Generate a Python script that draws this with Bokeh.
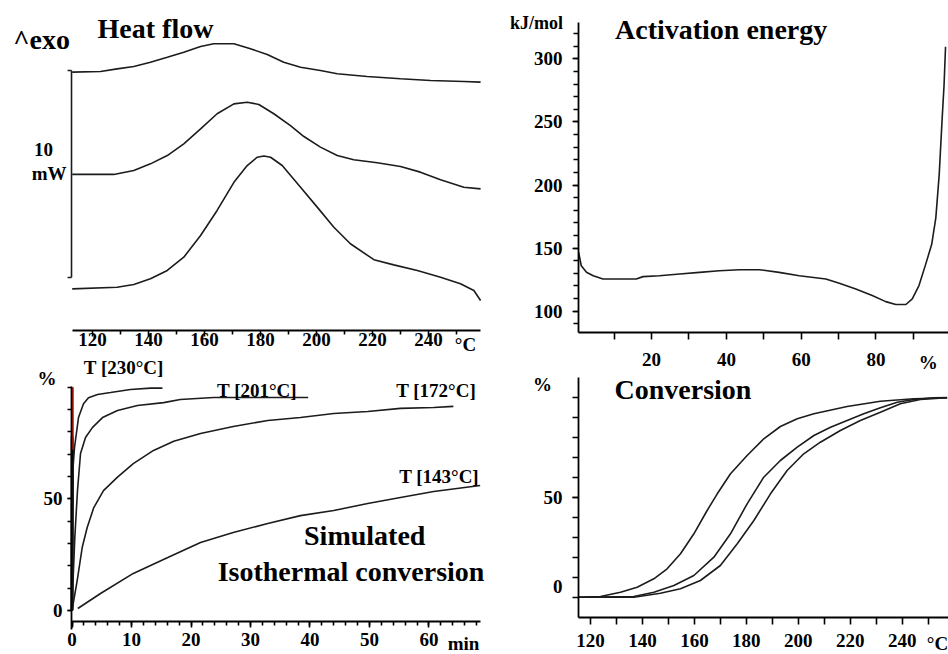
from bokeh.plotting import figure
from bokeh.layouts import row, column
from bokeh.models import FixedTicker, Label
from bokeh.embed import file_html
from bokeh.resources import INLINE

SERIF = "Liberation Serif"
INK = "#1c1c1c"

# ---------------- Heat flow (DSC), three heating rates, stacked (mW) ----------------
hf_temp_top = [112.75, 122.86, 128.8, 134.75, 140.7, 146.7, 152.6, 158.6, 163.3, 170.5,
               176.4, 182.4, 188.3, 194.3, 201.4, 207.4, 218.1, 230.0, 240.7, 252.6, 258.6]
hf_top = [12.48, 12.51, 12.64, 12.75, 12.96, 13.2, 13.44, 13.72, 13.85, 13.85,
          13.61, 13.33, 12.96, 12.72, 12.56, 12.4, 12.27, 12.16, 12.08, 12.03, 12.0]

hf_temp_mid = [112.75, 127.6, 134.75, 140.7, 146.7, 152.6, 158.6, 164.5, 170.5, 175.25,
               179.4, 184.75, 190.7, 195.5, 201.4, 207.4, 213.3, 221.7, 230.0, 237.1,
               244.3, 252.6, 258.6]
hf_mid = [7.54, 7.54, 7.73, 8.05, 8.45, 9.02, 9.74, 10.47, 10.95, 11.03,
          10.92, 10.47, 9.9, 9.37, 8.86, 8.45, 8.25, 8.1, 7.92, 7.65,
          7.28, 6.92, 6.84]

hf_temp_bot = [112.75, 128.8, 134.75, 140.7, 146.7, 152.6, 158.6, 164.5, 170.5, 175.25,
               178.8, 181.2, 183.6, 187.75, 194.3, 200.25, 206.2, 212.1, 220.5, 227.6,
               236.0, 244.3, 251.4, 256.2, 258.6]
hf_bot = [2.01, 2.09, 2.22, 2.5, 2.9, 3.54, 4.59, 5.8, 7.16, 7.97,
          8.37, 8.43, 8.37, 7.97, 6.92, 5.96, 4.99, 4.19, 3.42, 3.17,
          2.9, 2.57, 2.26, 1.93, 1.45]

scale_bar_base = 2.56   # mW
scale_bar_size = 10     # mW
scale_bar_temp = 112.5  # degC

# ---------------- Activation energy vs conversion ----------------
ea_alpha = [0.5, 1.2, 2.6, 4.4, 7.0, 11.5, 15.9, 17.7, 22.1, 27.5, 32.8, 38.1, 43.5, 48.8,
            54.1, 59.5, 66.6, 70.2, 74.6, 79.0, 82.6, 85.3, 88.0, 89.7, 91.5, 93.3, 94.9,
            96.0, 96.9, 97.7, 98.2, 98.6]
ea_kj = [146.6, 136.0, 130.8, 128.1, 125.5, 125.5, 125.5, 127.4, 128.1, 129.5, 130.8, 132.1,
         132.9, 132.9, 130.8, 128.1, 125.5, 122.1, 117.6, 112.4, 107.6, 105.3, 105.3, 109.7,
         120.3, 137.3, 153.0, 174.0, 208.0, 253.0, 279.0, 309.6]

# ---------------- Simulated isothermal conversion (min, %) ----------------
iso_fast_t = [0.0, 0.05]
iso_fast_c = [0.0, 78.0]
iso_red_t = [0.12, 0.12]
iso_red_c = [72.0, 100.0]

iso230_t = [0.0, 0.1, 0.2, 0.42, 1.09, 1.93, 2.77, 4.29, 6.47, 9.83, 13.2, 15.2]
iso230_c = [0.0, 40.0, 65.0, 73.0, 86.4, 92.6, 95.3, 96.7, 97.6, 99.0, 99.6, 99.6]

iso201_t = [0.0, 0.2, 0.47, 0.92, 1.43, 2.27, 3.45, 5.13, 7.65, 11.0, 15.4, 18.2, 23.8, 39.7]
iso201_c = [0.0, 15.0, 32.7, 53.7, 70.3, 77.5, 82.0, 86.4, 89.6, 91.8, 93.1, 94.5, 95.4, 95.4]

iso172_t = [0.0, 0.87, 1.71, 2.55, 3.66, 5.29, 7.6, 10.3, 13.7, 17.1, 21.6, 27.1, 32.9,
            38.4, 44.0, 49.7, 55.2, 60.8, 64.1]
iso172_c = [0.0, 13.4, 28.2, 37.2, 46.1, 53.7, 59.6, 65.8, 71.7, 75.8, 79.3, 82.4, 85.1,
            86.4, 88.2, 89.1, 90.5, 90.9, 91.4]

iso143_t = [0.97, 4.79, 10.3, 16.1, 21.6, 27.1, 32.9, 38.4, 44.0, 49.7, 55.2, 60.8, 68.6]
iso143_c = [0.9, 7.6, 16.6, 23.7, 30.5, 34.9, 39.0, 42.5, 44.8, 47.9, 50.6, 53.3, 56.0]

# ---------------- Conversion vs temperature (three heating rates) ----------------
conv_temp_a = [115.4, 123.85, 131.55, 137.97, 144.38, 149.5, 154.65, 159.8, 164.9, 168.8,
               173.9, 180.3, 186.7, 193.1, 199.6, 206.0, 218.8, 231.6, 244.5, 257.3]
conv_a = [0.0, 0.35, 2.5, 5.0, 9.2, 14.2, 21.7, 31.7, 43.35, 51.7,
          61.7, 70.85, 79.2, 85.35, 89.2, 91.7, 95.35, 98.0, 99.2, 99.7]

conv_temp_b = [115.4, 136.7, 144.4, 152.1, 159.8, 167.5, 173.9, 180.3, 186.7, 193.1,
               199.6, 206.0, 212.4, 218.8, 225.2, 231.6, 238.1, 244.5, 252.2, 257.3]
conv_b = [0.0, 0.35, 2.5, 5.85, 10.85, 20.0, 31.7, 46.7, 60.0, 68.35,
          75.0, 80.85, 85.0, 88.35, 91.7, 94.7, 97.5, 98.85, 99.7, 99.8]

conv_temp_c = [115.4, 136.7, 146.9, 154.65, 162.3, 170.0, 176.5, 182.9, 189.3, 195.7,
               202.1, 208.5, 216.2, 223.9, 231.6, 239.3, 247.0, 257.3]
conv_c = [0.0, 0.0, 2.0, 4.2, 8.35, 15.85, 26.7, 38.35, 51.7, 63.35,
          71.7, 77.5, 83.35, 88.35, 92.5, 96.7, 98.85, 99.7]


def base_figure(w, h, xr, yr):
    # the frame fills the whole figure; axes are pinned with fixed_location
    p = figure(width=w, height=h, x_range=xr, y_range=yr,
               toolbar_location=None, output_backend="svg",
               min_border=0, min_border_left=0, min_border_right=0,
               min_border_top=0, min_border_bottom=0)
    p.title.visible = False
    p.grid.visible = False
    p.outline_line_color = None
    p.background_fill_color = "white"
    p.border_fill_color = "white"
    return p


def style_axis(ax, ticks, minor, major_out, minor_out, standoff, loc, bounds):
    ax.fixed_location = loc
    ax.bounds = bounds
    ax.ticker = FixedTicker(ticks=ticks, minor_ticks=minor)
    ax.axis_line_color = "black"
    ax.axis_line_width = 1.8
    ax.major_tick_line_color = "black"
    ax.major_tick_line_width = 1.6
    ax.minor_tick_line_color = "black"
    ax.minor_tick_line_width = 1.6
    ax.major_tick_in = 0
    ax.minor_tick_in = 0
    ax.major_tick_out = major_out
    ax.minor_tick_out = minor_out
    ax.major_label_standoff = standoff
    ax.major_label_text_font = SERIF
    ax.major_label_text_font_size = "19px"
    ax.major_label_text_font_style = "bold"
    ax.major_label_text_color = "black"


def note(p, x, y, text, size="19px", align="center"):
    p.add_layout(Label(x=x, y=y, text=text, text_font=SERIF, text_font_size=size,
                       text_font_style="bold", text_color="black",
                       text_align=align, text_baseline="alphabetic"))


# ---- Heat flow panel
p1 = base_figure(490, 356, (87.14, 262.14), (-1.256, 15.942))
p1.yaxis.visible = False
style_axis(p1.xaxis[0], list(range(120, 241, 20)), list(range(130, 251, 20)), 6, 4, -4,
           0.0, (112.86, 258.57))
for tx, hy in ((hf_temp_top, hf_top), (hf_temp_mid, hf_mid), (hf_temp_bot, hf_bot)):
    p1.line(tx, hy, line_color=INK, line_width=1.6)
# 10 mW scale bar with end caps
bar_top = scale_bar_base + scale_bar_size
p1.segment(x0=[scale_bar_temp, scale_bar_temp - 1.4, scale_bar_temp - 1.4],
           y0=[scale_bar_base, scale_bar_base, bar_top],
           x1=[scale_bar_temp, scale_bar_temp, scale_bar_temp],
           y1=[bar_top, scale_bar_base, bar_top],
           line_color=INK, line_width=1.6)
note(p1, 142.5, 14.57, "Heat flow", "28px")
note(p1, 101.8, 14.04, "^exo", "28px")
note(p1, 102.5, 8.74, "10")
note(p1, 104.5, 7.58, "mW")
note(p1, 253.2, -0.68, "°C")

# ---- Activation energy panel
p2 = base_figure(458, 373, (-23.07, 99.39), (50.64, 346.2))
style_axis(p2.xaxis[0], [20, 40, 60, 80], [10, 30, 50, 70, 90], 7, 7, 13,
           83.12, (0.45, 99.39))
style_axis(p2.yaxis[0], [100, 150, 200, 250, 300], list(range(90, 321, 10)), 6, 5, 10,
           0.45, (83.12, 328.8))
p2.line(ea_alpha, ea_kj, line_color=INK, line_width=1.6)
note(p2, 38.6, 323.0, "Activation energy", "28px")
note(p2, -10.8, 328.3, "kJ/mol", "18px")
note(p2, 94.0, 59.7, "%")

# ---- Simulated isothermal conversion panel
p3 = base_figure(490, 298, (-12.02, 70.34), (-19.70, 113.75))
style_axis(p3.xaxis[0], list(range(0, 61, 10)), list(range(0, 69, 2)), 6, 4, 5,
           -4.93, (-0.08, 68.66))
style_axis(p3.yaxis[0], [0, 50], list(range(0, 101, 10)), 4, 4, 5,
           -0.08, (-8.5, 100.31))
p3.line(iso_fast_t, iso_fast_c, line_color="black", line_width=3.2)
p3.line(iso_red_t, iso_red_c, line_color="#e01a10", line_width=2.2)
for tt, cc in ((iso230_t, iso230_c), (iso201_t, iso201_c),
               (iso172_t, iso172_c), (iso143_t, iso143_c)):
    p3.line(tt, cc, line_color=INK, line_width=1.6)
note(p3, 8.7, 108.8, "T [230°C]")
note(p3, 31.1, 98.5, "T [201°C]")
note(p3, 61.2, 98.5, "T [172°C]")
note(p3, 61.7, 60.0, "T [143°C]")
note(p3, 49.2, 33.6, "Simulated", "28px")
note(p3, 46.9, 17.5, "Isothermal conversion", "28px")
note(p3, -4.2, 103.9, "%")
note(p3, 65.8, -14.6, "min")

# ---- Conversion vs temperature panel
p4 = base_figure(458, 281, (81.5, 257.83), (-28.65, 111.85))
style_axis(p4.xaxis[0], list(range(120, 241, 20)), list(range(130, 251, 20)), 7, 7, 9,
           -10.15, (115.38, 257.83))
style_axis(p4.yaxis[0], [50], list(range(0, 101, 10)), 6, 6, 10,
           115.38, (-10.15, 109.85))
for tx, cv in ((conv_temp_a, conv_a), (conv_temp_b, conv_b), (conv_temp_c, conv_c)):
    p4.line(tx, cv, line_color=INK, line_width=1.6)
note(p4, 155.6, 104.1, "Conversion", "28px")
note(p4, 101.5, 106.5, "%")
note(p4, 109.2, 5.3, "0", align="right")
note(p4, 253.6, -22.98, "°C")

layout = row(column(p1, p3), column(p2, p4))

open("out.html", "w").write(file_html(layout, INLINE))
